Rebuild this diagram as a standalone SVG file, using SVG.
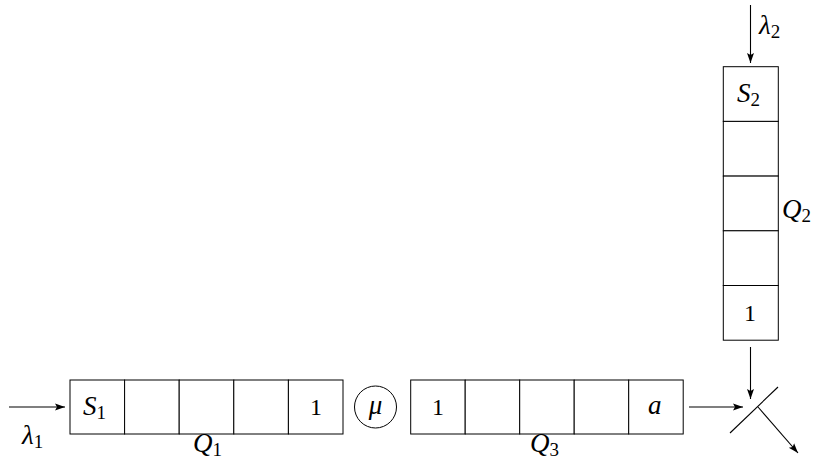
<svg xmlns="http://www.w3.org/2000/svg" width="817" height="469" viewBox="0 0 817 469">
<style>
.cell{fill:#fff;stroke:#000;stroke-width:1}
.ln{stroke:#000;stroke-width:1.1;fill:none}
.m{font-family:"Liberation Serif","Times New Roman",serif;font-style:italic;font-size:27px;fill:#000}
.n{font-family:"Liberation Serif","Times New Roman",serif;font-size:24px;fill:#000}
.s{font-family:"Liberation Serif","Times New Roman",serif;font-style:normal;font-size:19px}
</style>
<defs>
<marker id="ah" viewBox="0 0 10 10" refX="10" refY="5" markerWidth="10" markerHeight="10" markerUnits="userSpaceOnUse" orient="auto">
<path d="M0,1.5 L10,5 L0,8.5 L2,5 Z" fill="#000"/>
</marker>
</defs>
<rect width="817" height="469" fill="#fff"/>
<g id="Q1">
<rect class="cell" x="70" y="380" width="54.6" height="54"/>
<rect class="cell" x="124.6" y="380" width="54.6" height="54"/>
<rect class="cell" x="179.2" y="380" width="54.6" height="54"/>
<rect class="cell" x="233.8" y="380" width="54.6" height="54"/>
<rect class="cell" x="288.4" y="380" width="54.6" height="54"/>
<text class="m" x="83" y="415">S<tspan class="s" dy="4">1</tspan></text>
<text class="n" x="310" y="415">1</text>
<text class="m" x="193" y="452">Q<tspan class="s" dy="4">1</tspan></text>
</g>
<g id="mu">
<circle class="cell" cx="375.5" cy="407" r="21"/>
<text class="m" x="375.5" y="414" text-anchor="middle">μ</text>
</g>
<g id="Q3">
<rect class="cell" x="410.7" y="380" width="54.5" height="54"/>
<rect class="cell" x="465.2" y="380" width="54.5" height="54"/>
<rect class="cell" x="519.7" y="380" width="54.5" height="54"/>
<rect class="cell" x="574.2" y="380" width="54.5" height="54"/>
<rect class="cell" x="628.7" y="380" width="54.5" height="54"/>
<text class="n" x="432" y="415">1</text>
<text class="m" x="648" y="414">a</text>
<text class="m" x="530" y="452">Q<tspan class="s" dy="4">3</tspan></text>
</g>
<g id="Q2">
<rect class="cell" x="723.3" y="66.7" width="55" height="54.7"/>
<rect class="cell" x="723.3" y="121.4" width="55" height="54.7"/>
<rect class="cell" x="723.3" y="176.1" width="55" height="54.7"/>
<rect class="cell" x="723.3" y="230.8" width="55" height="54.7"/>
<rect class="cell" x="723.3" y="285.5" width="55" height="54.7"/>
<text class="m" x="737" y="102">S<tspan class="s" dy="4">2</tspan></text>
<text class="n" x="744" y="321">1</text>
<text class="m" x="782" y="218">Q<tspan class="s" dy="4">2</tspan></text>
</g>
<g id="switch">
<line class="ln" x1="730" y1="433" x2="778" y2="387"/>
</g>
<g id="connectors">
<line class="ln" x1="9" y1="407" x2="65" y2="407" marker-end="url(#ah)"/>
<text class="m" x="22" y="444">λ<tspan class="s" dy="4">1</tspan></text>
<line class="ln" x1="750.5" y1="5" x2="750.5" y2="63" marker-end="url(#ah)"/>
<text class="m" x="759" y="34">λ<tspan class="s" dy="4">2</tspan></text>
<line class="ln" x1="689" y1="407" x2="743" y2="407" marker-end="url(#ah)"/>
<line class="ln" x1="750.5" y1="347" x2="750.5" y2="399" marker-end="url(#ah)"/>
<line class="ln" x1="758" y1="407" x2="798" y2="453" marker-end="url(#ah)"/>
</g>
</svg>
